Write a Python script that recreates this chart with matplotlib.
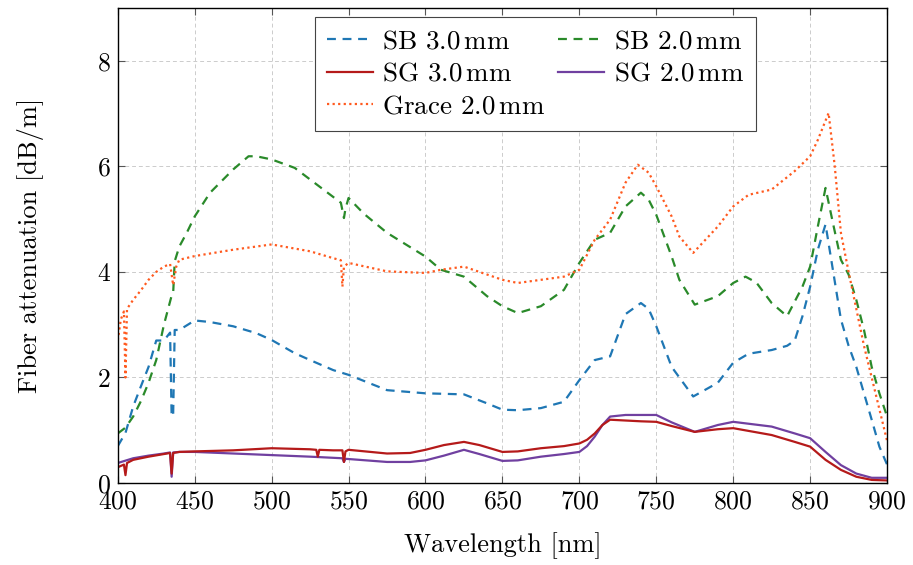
import numpy as np
import matplotlib
matplotlib.use("Agg")
from matplotlib import pyplot as plt

plt.rcParams['font.family'] = 'serif'
plt.rcParams['font.serif'] = ['cmr10', 'DejaVu Serif']
plt.rcParams['mathtext.fontset'] = 'cm'
plt.rcParams['axes.formatter.use_mathtext'] = True

# SB 3.0 mm
wl_sb3 = [400, 405, 410, 415, 420, 425, 430, 434, 435, 436, 437, 440, 450, 460, 475, 490, 500,
          515, 525, 540, 550, 575, 600, 625, 640, 650, 660, 675, 690, 700, 710, 720, 730, 740,
          745, 750, 760, 774, 790, 800, 810, 825, 835, 840, 845, 850, 855, 860, 865, 870, 875,
          880, 885, 890, 895, 900]
sb3 = [0.7, 0.95, 1.45, 1.83, 2.2, 2.7, 2.7, 2.85, 1.26, 1.3, 2.9, 2.9, 3.08, 3.05, 2.97, 2.84,
       2.71, 2.46, 2.33, 2.14, 2.05, 1.76, 1.70, 1.68, 1.51, 1.39, 1.38, 1.42, 1.54, 1.95, 2.33,
       2.40, 3.2, 3.41, 3.3, 2.97, 2.2, 1.64, 1.9, 2.28, 2.45, 2.52, 2.6, 2.7, 3.16, 3.72, 4.42,
       4.9, 4.0, 3.1, 2.6, 2.2, 1.7, 1.2, 0.69, 0.35]

# SB 2.0 mm
wl_sb2 = [400, 405, 410, 415, 420, 425, 430, 435, 436, 437, 440, 445, 450, 460, 475, 485, 490,
          500, 515, 525, 535, 545, 547, 548, 550, 560, 575, 600, 610, 625, 640, 650, 660, 675,
          690, 700, 710, 720, 730, 740, 745, 750, 760, 765, 775, 790, 800, 808, 815, 825, 835,
          845, 850, 855, 860, 865, 870, 875, 880, 885, 890, 895, 900]
sb2 = [0.94, 1.05, 1.26, 1.55, 1.9, 2.33, 3.0, 3.55, 3.6, 4.2, 4.48, 4.75, 5.05, 5.5, 5.94, 6.19,
       6.19, 6.13, 5.97, 5.75, 5.53, 5.31, 5.02, 5.2, 5.4, 5.1, 4.74, 4.29, 4.04, 3.91, 3.54, 3.35,
       3.22, 3.35, 3.66, 4.17, 4.61, 4.74, 5.24, 5.5, 5.37, 5.08, 4.29, 3.85, 3.38, 3.54, 3.79,
       3.91, 3.8, 3.41, 3.16, 3.72, 4.1, 4.86, 5.59, 4.9, 4.23, 3.95, 3.47, 2.9, 2.2, 1.7, 1.26]

# SG 3.0 mm
wl_sg3 = [400, 404, 405, 406, 410, 420, 430, 434, 435, 436, 440, 450, 475, 500, 525, 529, 530,
          531, 540, 546, 547, 548, 550, 575, 590, 600, 612, 625, 635, 650, 660, 675, 690, 700,
          705, 710, 715, 720, 740, 750, 760, 775, 790, 800, 825, 840, 850, 860, 870, 880, 890, 900]
sg3 = [0.3, 0.35, 0.15, 0.38, 0.44, 0.5, 0.55, 0.57, 0.18, 0.57, 0.59, 0.6, 0.62, 0.66, 0.64,
       0.63, 0.5, 0.63, 0.62, 0.62, 0.4, 0.6, 0.63, 0.56, 0.57, 0.63, 0.72, 0.78, 0.72, 0.59, 0.6,
       0.66, 0.7, 0.75, 0.82, 0.94, 1.1, 1.2, 1.17, 1.16, 1.08, 0.97, 1.02, 1.04, 0.91, 0.78, 0.69,
       0.44, 0.25, 0.12, 0.06, 0.05]

# SG 2.0 mm
wl_sg2 = [400, 410, 420, 430, 434, 435, 436, 440, 450, 475, 500, 525, 546, 547, 548, 575, 590,
          600, 612, 625, 635, 650, 660, 675, 690, 700, 705, 710, 715, 720, 730, 750, 760, 775,
          790, 800, 825, 840, 850, 860, 870, 880, 890, 900]
sg2 = [0.38, 0.47, 0.52, 0.56, 0.58, 0.12, 0.58, 0.59, 0.59, 0.56, 0.53, 0.5, 0.47, 0.4, 0.46,
       0.4, 0.4, 0.43, 0.52, 0.63, 0.55, 0.42, 0.43, 0.5, 0.55, 0.59, 0.7, 0.88, 1.1, 1.26, 1.29,
       1.29, 1.15, 0.97, 1.1, 1.16, 1.07, 0.94, 0.85, 0.59, 0.34, 0.18, 0.1, 0.1]

# Grace 2.0 mm
wl_gr = [400, 402, 404, 405, 406, 410, 415, 420, 425, 430, 434, 436, 438, 440, 450, 475, 500,
         525, 540, 545, 546, 547, 550, 575, 600, 610, 625, 640, 650, 660, 675, 690, 700, 710,
         720, 730, 738, 745, 750, 760, 765, 774, 790, 800, 810, 825, 840, 850, 855, 862, 866,
         870, 875, 880, 885, 890, 895, 900]
gr = [2.7, 3.1, 3.25, 2.0, 3.3, 3.47, 3.65, 3.85, 4.0, 4.1, 4.15, 3.75, 4.1, 4.23, 4.3, 4.42,
      4.52, 4.39, 4.26, 4.22, 3.72, 4.1, 4.17, 4.01, 3.98, 4.04, 4.1, 3.95, 3.85, 3.79, 3.85, 3.91,
      4.04, 4.61, 4.99, 5.69, 6.03, 5.88, 5.62, 5.05, 4.67, 4.36, 4.86, 5.24, 5.46, 5.56, 5.91,
      6.19, 6.5, 7.01, 6.0, 4.74, 4.0, 3.3, 2.6, 2.0, 1.4, 0.8]

c_blue = '#1f77b4'
c_green = '#2a8a2a'
c_red = '#b51a1a'
c_purple = '#7040a0'
c_orange = '#ff5a1f'

fig = plt.figure(figsize=(9.13, 5.65), dpi=100)
ax = fig.add_axes([0.129, 0.145, 0.8426, 0.841])

lw = 1.6
h_sb3, = ax.plot(wl_sb3, sb3, color=c_blue, lw=lw, dashes=(4, 3), label=r'SB 3.0$\,$mm')
h_sb2, = ax.plot(wl_sb2, sb2, color=c_green, lw=lw, dashes=(4, 3), label=r'SB 2.0$\,$mm')
h_sg2, = ax.plot(wl_sg2, sg2, color=c_purple, lw=lw, label=r'SG 2.0$\,$mm')
h_sg3, = ax.plot(wl_sg3, sg3, color=c_red, lw=lw, label=r'SG 3.0$\,$mm')
h_gr, = ax.plot(wl_gr, gr, color=c_orange, lw=lw, dashes=(1, 1.5), label=r'Grace 2.0$\,$mm')

ax.set_xlim(400, 900)
ax.set_ylim(0, 9)
ax.set_xticks(np.arange(400, 901, 50))
ax.set_yticks([0, 2, 4, 6, 8])
ax.grid(True, color='#cccccc', ls=(0, (4, 3)), lw=0.7)
ax.tick_params(direction='in', top=True, right=True, labelsize=18.5, length=5,
               color='#555555', pad=5)
for s in ax.spines.values():
    s.set_linewidth(1.0)

ax.set_xlabel('Wavelength [nm]', fontsize=19, labelpad=13)
ax.set_ylabel('Fiber attenuation [dB/m]', fontsize=19, labelpad=38)

leg = ax.legend(handles=[h_sb3, h_sg3, h_gr, h_sb2, h_sg2], ncol=2, loc='upper center',
                bbox_to_anchor=(0.543, 0.981), borderaxespad=0, fontsize=19.5, fancybox=False,
                framealpha=1, edgecolor='#444444', handlelength=1.7, columnspacing=0.45,
                labelspacing=0.33, borderpad=0.45, handletextpad=0.35)
leg.get_frame().set_linewidth(0.8)

fig.savefig('out.png', dpi=100)
